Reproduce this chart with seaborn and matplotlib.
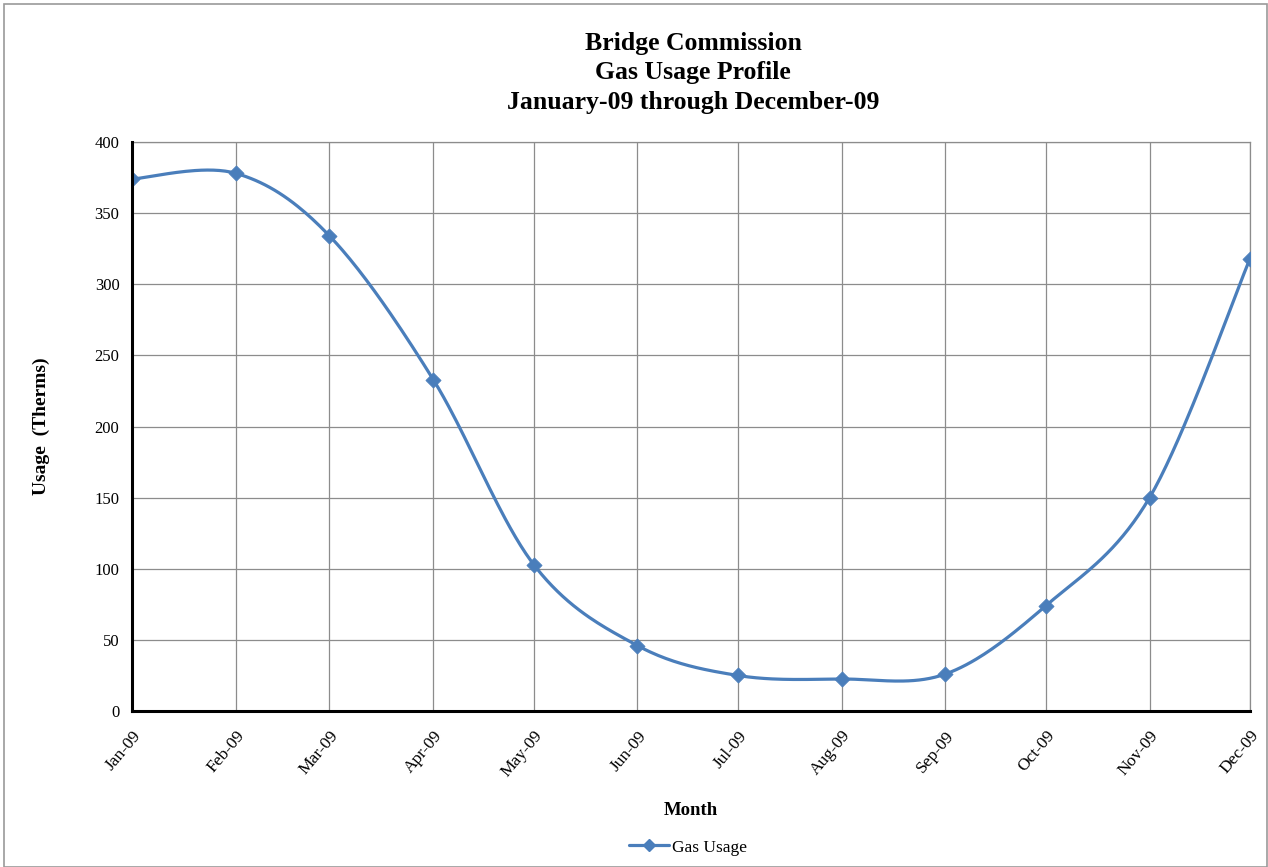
import numpy as np
import pandas as pd
import matplotlib
matplotlib.use("Agg")
import matplotlib.pyplot as plt
import matplotlib.dates as mdates
from matplotlib.lines import Line2D
import seaborn as sns

months = ["Jan-09", "Feb-09", "Mar-09", "Apr-09", "May-09", "Jun-09",
          "Jul-09", "Aug-09", "Sep-09", "Oct-09", "Nov-09", "Dec-09"]
usage = [374, 378, 334, 233, 103, 46, 25, 22.5, 26, 74, 150, 318]
y_ticks = [0, 50, 100, 150, 200, 250, 300, 350, 400]

dates = pd.to_datetime(months, format="%b-%y")
df = pd.DataFrame({"Month": dates, "Usage": usage})

sns.set_theme(style="white")
plt.rcParams["font.family"] = ["Liberation Serif", "DejaVu Serif"]
plt.rcParams.update({"text.color": "black", "axes.labelcolor": "black",
                     "xtick.color": "black", "ytick.color": "black"})

BLUE = "#4A7EBB"

fig = plt.figure(figsize=(12.68, 8.67), dpi=100)
ax = fig.add_axes([0.1041, 0.1799, 0.8817, 0.6563])

x_num = mdates.date2num(df["Month"])
y_val = df["Usage"].to_numpy(dtype=float)

# Smoothed line: cubic Bezier segments with Catmull-Rom style control points,
# computed in screen-proportional units so the curve shape is aspect-aware.
sx = 3.347   # px per day
sy = 1.4225  # px per therm
pts = np.column_stack([x_num * sx, y_val * sy])
n = len(pts)
curve = []
t = np.linspace(0, 1, 40)
for i in range(n - 1):
    p0 = pts[i]
    p3 = pts[i + 1]
    prev = pts[i - 1] if i > 0 else pts[i]
    nxt = pts[i + 2] if i + 2 < n else pts[i + 1]
    c1 = p0 + (p3 - prev) / 6.0
    c2 = p3 - (nxt - p0) / 6.0
    seg = ((1 - t) ** 3)[:, None] * p0 + (3 * (1 - t) ** 2 * t)[:, None] * c1 \
        + (3 * (1 - t) * t ** 2)[:, None] * c2 + (t ** 3)[:, None] * p3
    curve.append(seg if i == 0 else seg[1:])
curve = np.vstack(curve)
ax.plot(curve[:, 0] / sx, curve[:, 1] / sy, color=BLUE, lw=2.3,
        solid_capstyle="round", zorder=3)

sns.scatterplot(data=df, x="Month", y="Usage", marker="D", s=60,
                color=BLUE, edgecolor=BLUE, linewidth=0.5, ax=ax, zorder=4,
                legend=False)

ax.set_xlim(x_num[0], x_num[-1])
ax.set_ylim(0, 400)
ax.set_yticks(y_ticks)
ax.set_yticklabels([str(v) for v in y_ticks], fontsize=12)
ax.set_xticks(x_num)
ax.set_xticklabels(months, rotation=50, ha="right", rotation_mode="anchor",
                   fontsize=12.5)

ax.grid(True, color="#8C8C8C", lw=0.9)
ax.set_axisbelow(True)
for side in ["top", "right"]:
    ax.spines[side].set_color("#8C8C8C")
    ax.spines[side].set_linewidth(0.9)
for side in ["left", "bottom"]:
    ax.spines[side].set_color("black")
    ax.spines[side].set_linewidth(2.2)
    ax.spines[side].set_zorder(5)
ax.tick_params(axis="both", which="major", direction="out", length=5,
               width=2.2, color="black", pad=4)
ax.tick_params(axis="x", pad=7)

ax.set_xlabel("Month", fontsize=13.5, fontweight="bold", labelpad=15.5)
ax.set_ylabel("Usage  (Therms)", fontsize=14, fontweight="bold", labelpad=32)

fig.text(0.5465, 0.950, "Bridge Commission", ha="center", va="center",
         fontsize=18.5, fontweight="bold")
fig.text(0.5465, 0.916, "Gas Usage Profile", ha="center", va="center",
         fontsize=18.5, fontweight="bold")
fig.text(0.5465, 0.882, "January-09 through December-09", ha="center",
         va="center", fontsize=18.5, fontweight="bold")

handle = Line2D([0], [0], color=BLUE, lw=2.3, marker="D", markersize=6,
                markerfacecolor=BLUE, markeredgecolor=BLUE)
fig.legend([handle], ["Gas Usage"], loc="center", bbox_to_anchor=(0.5425, 0.0225),
           frameon=False, fontsize=12.5, handlelength=2.3, handletextpad=0.2)

border = plt.Rectangle((0.003, 0.0), 0.996, 0.995, transform=fig.transFigure,
                       fill=False, edgecolor="#9A9A9A", lw=1.2)
fig.patches.append(border)

fig.savefig("out.png", dpi=100, facecolor="white")
